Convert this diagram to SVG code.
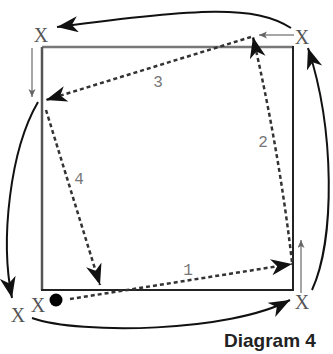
<svg xmlns="http://www.w3.org/2000/svg" width="333" height="354" viewBox="0 0 333 354">
<style>
.x{font-family:"Liberation Serif","Times New Roman",serif;font-size:20px;fill:#555;text-anchor:middle}
.n{font-family:"Liberation Mono","Courier New",monospace;font-size:16px;fill:#777;text-anchor:middle}
.cap{font-family:"Liberation Sans",Arial,sans-serif;font-size:19px;font-weight:bold;fill:#222}
.solid{fill:none;stroke:#111;stroke-width:2}
.dash{fill:none;stroke:#333;stroke-width:2.5;stroke-dasharray:4 3}
.thin{fill:none;stroke:#888;stroke-width:1.5}
</style>
<defs>
<marker id="ah" markerUnits="userSpaceOnUse" markerWidth="24" markerHeight="18" refX="21" refY="8" orient="auto">
<path d="M0,0 L21,8 L0,16 L6,8 Z" fill="#111"/>
</marker>
<marker id="sh" markerUnits="userSpaceOnUse" markerWidth="10" markerHeight="8" refX="8" refY="3.5" orient="auto">
<path d="M0,0 L8,3.5 L0,7 L2,3.5 Z" fill="#666"/>
</marker>
</defs>
<g id="square">
<line x1="42" y1="47" x2="293" y2="47" stroke="#777" stroke-width="2.5"/>
<line x1="42" y1="47" x2="42" y2="290" stroke="#555" stroke-width="2.5"/>
<line x1="293" y1="46" x2="293" y2="290" stroke="#222" stroke-width="2"/>
<line x1="41" y1="290" x2="294" y2="290" stroke="#222" stroke-width="2"/>
</g>
<g id="connectors">
<path class="solid" d="M291,28 C255,5 200,8 57,27" marker-end="url(#ah)"/>
<path class="solid" d="M38,102 C10,150 0,240 12,298" marker-end="url(#ah)"/>
<path class="solid" d="M32,318 C80,335 230,332 290,300" marker-end="url(#ah)"/>
<path class="solid" d="M312,290 C335,240 335,130 308,48" marker-end="url(#ah)"/>
<line class="thin" x1="294" y1="35" x2="259" y2="35" marker-end="url(#sh)"/>
<line class="thin" x1="32" y1="48" x2="32" y2="97" marker-end="url(#sh)"/>
<line class="thin" x1="301" y1="293" x2="301" y2="240" marker-end="url(#sh)"/>
<path class="dash" d="M70,299 L292,264" marker-end="url(#ah)"/>
<path class="dash" d="M292,262 Q279,150 253,37" marker-end="url(#ah)"/>
<path class="dash" d="M251,37 L46,100" marker-end="url(#ah)"/>
<path class="dash" d="M46,110 L100,285" marker-end="url(#ah)"/>
</g>
<g id="labels">
<text class="n" x="158" y="87">3</text>
<text class="n" x="263" y="147">2</text>
<text class="n" x="188" y="275">1</text>
<text class="n" x="79" y="184">4</text>
</g>
<g id="xs">
<text class="x" x="41" y="42">X</text>
<text class="x" x="302" y="44">X</text>
<text class="x" x="302" y="309">X</text>
<text class="x" x="38" y="312">X</text>
<text class="x" x="18" y="322">X</text>
</g>
<g id="dot"><circle cx="56" cy="300" r="6.5" fill="#000"/></g>
<g id="caption"><text class="cap" x="224" y="347">Diagram 4</text></g>
</svg>
